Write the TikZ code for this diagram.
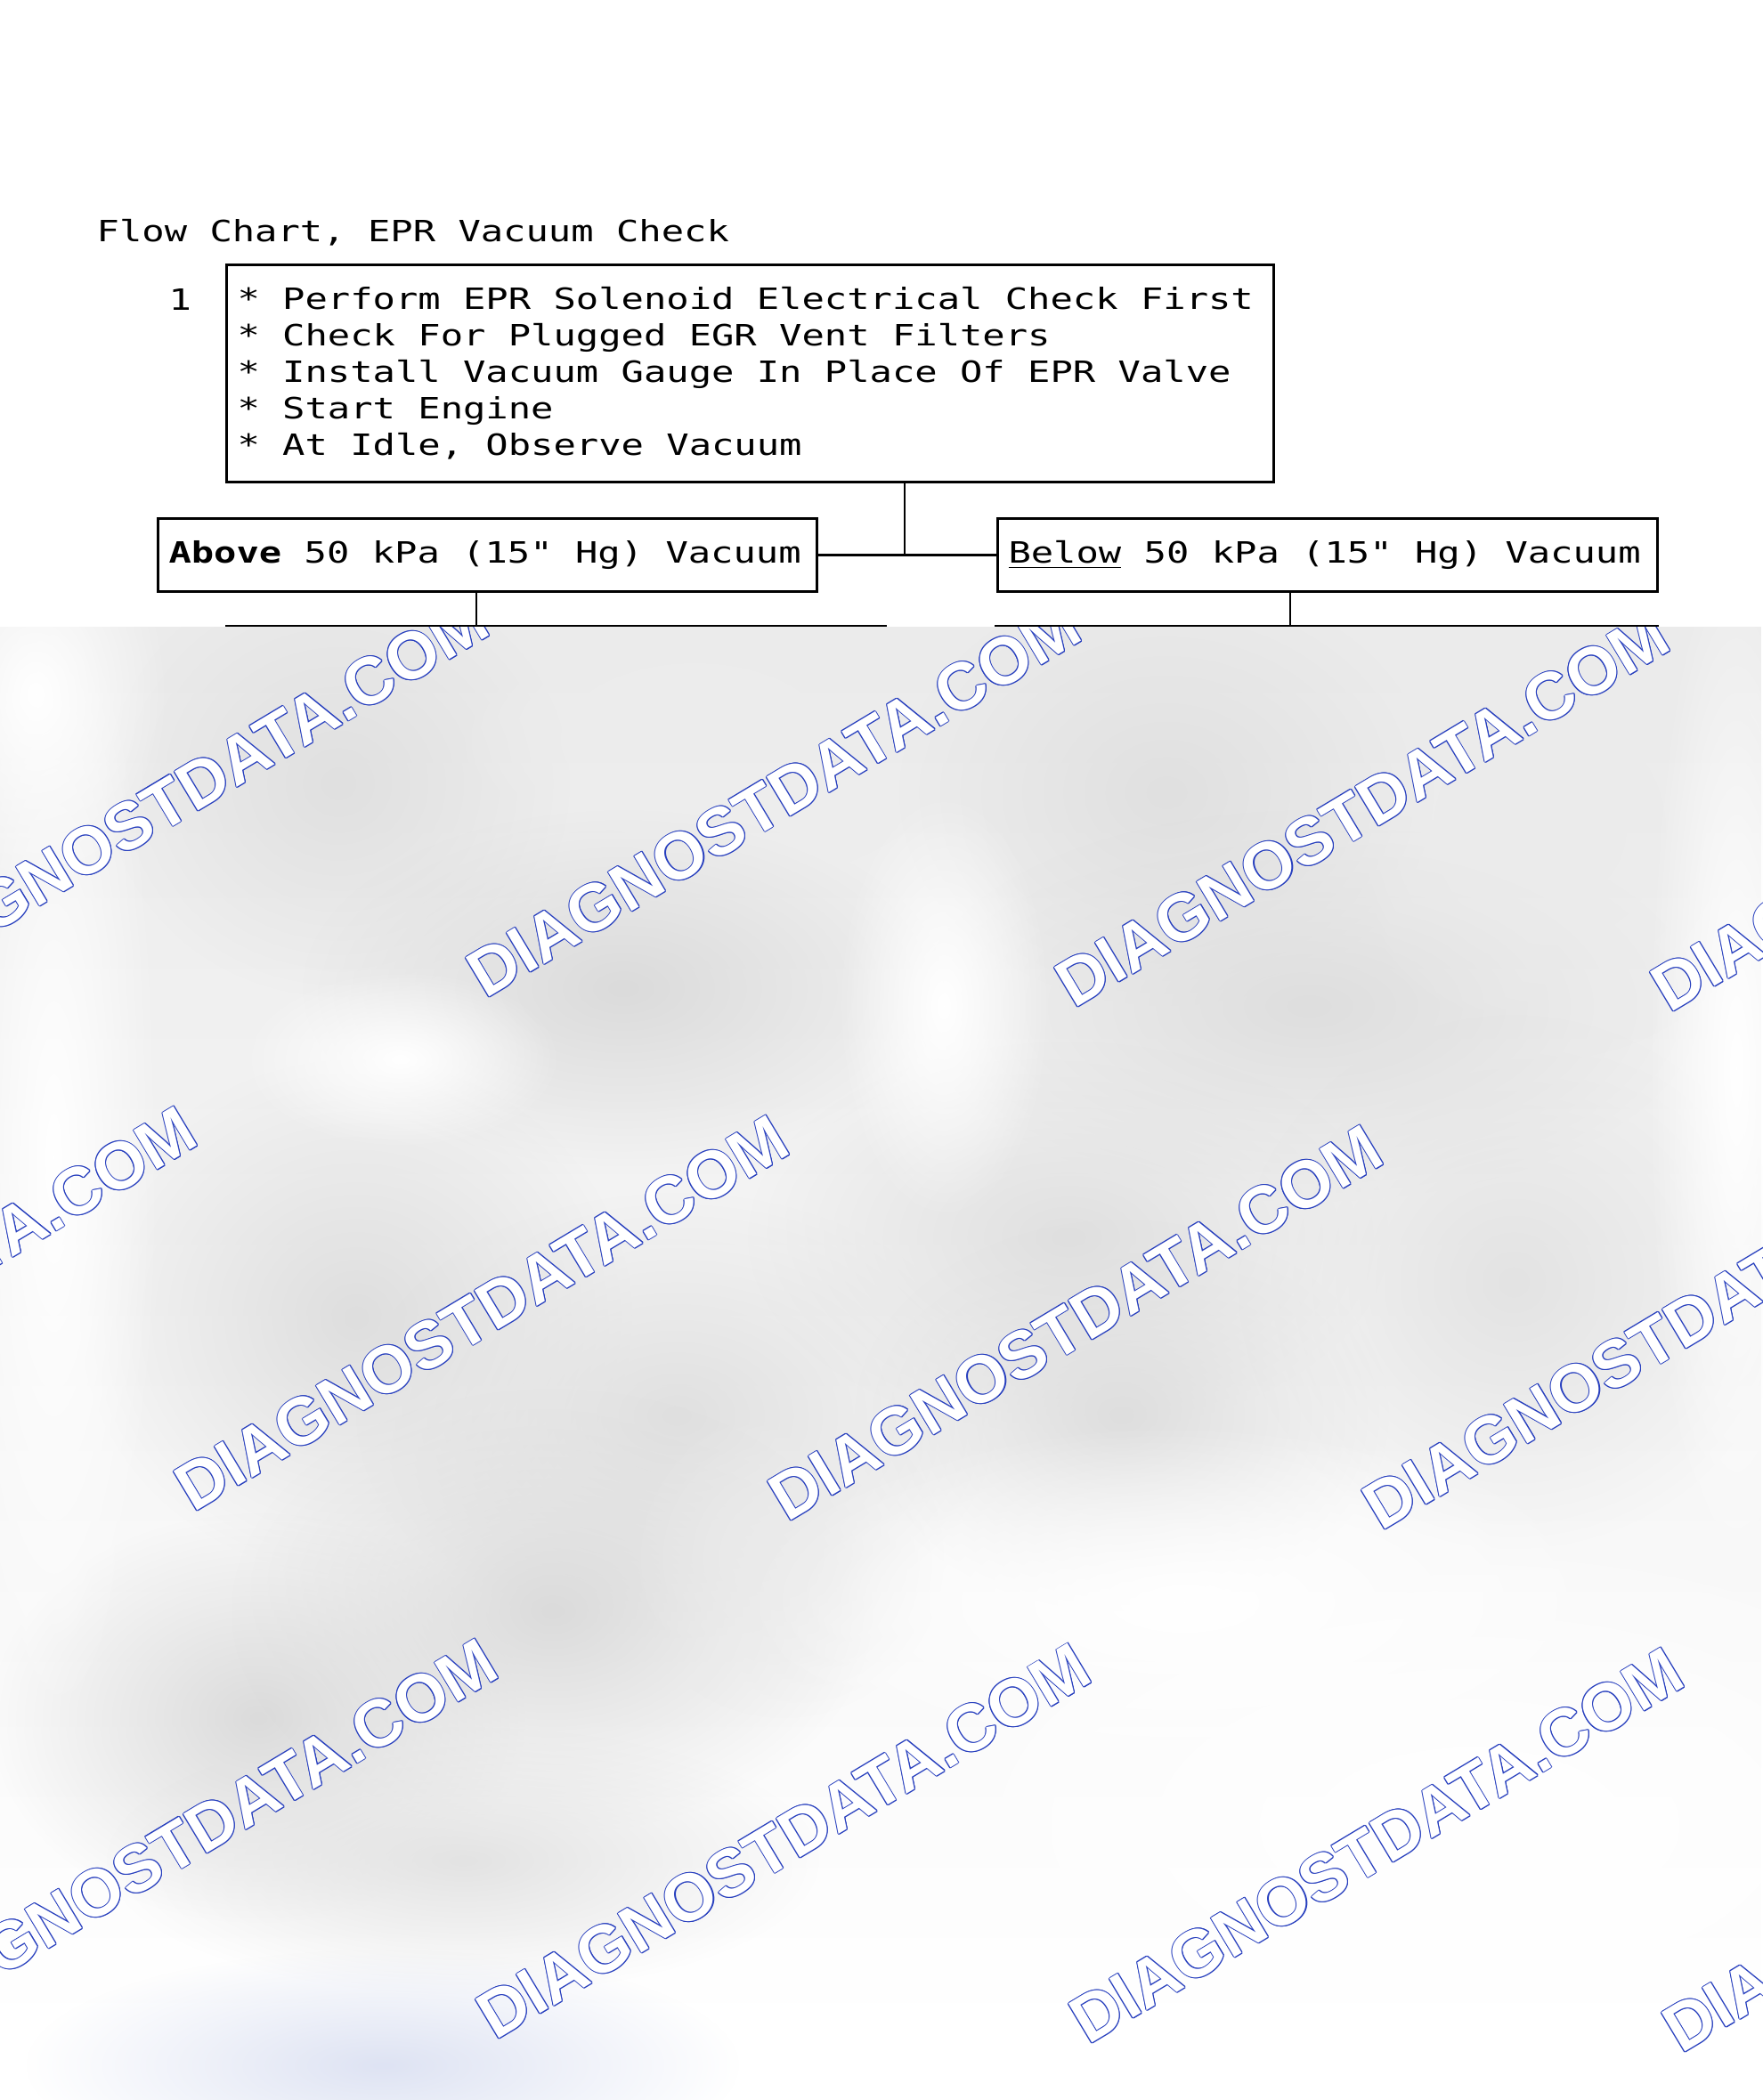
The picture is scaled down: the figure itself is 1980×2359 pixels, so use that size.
\documentclass[tikz,border=0pt]{standalone}
\usepackage{fontspec}
\usetikzlibrary{positioning,fadings}
\newfontfamily\chartfont[FakeStretch=1.28]{DejaVu Sans Mono}
\newfontfamily\markfont{Liberation Sans}
\definecolor{markblue}{RGB}{38,62,190}
\definecolor{haze}{RGB}{222,227,243}
\tikzfading[name=softblob, inner color=transparent!0, outer color=transparent!100]
\tikzfading[name=downfade, top color=transparent!0, bottom color=transparent!100]
\newcommand{\markcopy}[3]{\makebox[0pt][l]{\hspace*{#1}\raisebox{#2}{#3}}}
\newcommand{\markoutline}[1]{{\color{markblue}%
  \markcopy{0.3pt}{0pt}{#1}\markcopy{-0.3pt}{0pt}{#1}%
  \markcopy{0pt}{0.3pt}{#1}\markcopy{0pt}{-0.3pt}{#1}%
  \markcopy{0.21pt}{0.21pt}{#1}\markcopy{-0.21pt}{0.21pt}{#1}%
  \markcopy{0.21pt}{-0.21pt}{#1}\markcopy{-0.21pt}{-0.21pt}{#1}}%
  {\color{white}#1}}
\tikzset{
  chart/.style = {inner sep=0pt,
    font=\chartfont\fontsize{9.36pt}{11.67pt}\selectfont},
  stepbox/.style = {chart, rectangle, draw=black, line width=0.85pt,
    anchor=north west, align=left, inner xsep=0.12cm,
    execute at begin node={\spaceskip=\fontdimen2\font
      \xspaceskip=\fontdimen2\font}},% case du diagramme
  link/.style = {draw=black, line width=0.7pt},% trait de liaison
  blob/.style = {path fading=softblob},% tache floue
  wmark/.style = {inner sep=0pt, anchor=base west, rotate=31,
    font=\markfont\bfseries\fontsize{21.25pt}{24pt}\selectfont}% filigrane
}

\begin{document}
\begin{tikzpicture}[x=0.01cm, y=-0.01cm]
\useasboundingbox (0,0) rectangle (1980,2359);
\node [chart, anchor=base west] (title) at (108,271) {Flow Chart, EPR Vacuum Check};
\node [chart, anchor=base west] (num) at (189,348) {1};
\node [stepbox, minimum width=11.75cm, minimum height=2.44cm, text width=11.51cm]
    (check) at (253,296) {{*} Perform EPR Solenoid Electrical Check First\\
    {*} Check For Plugged EGR Vent Filters\\
    {*} Install Vacuum Gauge In Place Of EPR Valve\\
    {*} Start Engine\\
    {*} At Idle, Observe Vacuum};
\node [stepbox, minimum width=7.40cm, minimum height=0.82cm, text width=7.16cm]
    (above) at (176,581) {\textbf{Above} 50 kPa (15" Hg) Vacuum};
\node [stepbox, minimum width=7.41cm, minimum height=0.82cm, text width=7.17cm]
    (below) at (1119,581) {\underline{Below} 50 kPa (15" Hg) Vacuum};
\node [stepbox, minimum width=7.40cm, minimum height=3cm] (lowA) at (253,702) {};
\node [stepbox, minimum width=7.43cm, minimum height=3cm] (lowB) at (1117,702) {};
\coordinate (split) at (1016,622);
\coordinate (tapA) at (535,0);
\coordinate (tapB) at (1449,0);
\draw [link] (check.south -| split) -- (split);
\draw [link] (above.east) -- (below.west);
\draw [link] (above.south -| tapA) -- (lowA.north -| tapA);
\draw [link] (below.south -| tapB) -- (lowB.north -| tapB);
% partie floutee
\begin{scope}
  \clip (0,704) rectangle (1980,2359);
  \fill [white] (0,704) rectangle (1980,2359);
  \fill [path fading=downfade, black!8] (0,704) rectangle (1980,2250);
  \foreach \cx/\cy/\rx/\ry/\g in {380/880/260/240/12, 700/1110/360/200/14,
      780/830/300/170/7, 1310/890/300/240/12, 1470/1130/440/220/13,
      1740/930/260/260/8, 400/1480/310/290/13, 760/1590/360/250/12,
      1200/1390/360/220/12, 1260/1590/300/220/13, 1700/1440/310/300/11,
      290/1930/300/230/14, 620/1810/360/250/14, 520/2090/400/150/11,
      880/1750/180/180/8}
    \fill [blob, black!\g] (\cx,\cy) ellipse [x radius=\rx, y radius=\ry];
  \foreach \cx/\cy/\rx/\ry in {450/1190/180/100, 1060/1130/120/240,
      1330/1800/500/200, 1650/2050/700/350, 60/1300/120/650,
      40/780/150/220, 1950/1200/100/600}
    \fill [blob, white] (\cx,\cy) ellipse [x radius=\rx, y radius=\ry];
  \fill [blob, haze] (430,2320) ellipse [x radius=400, y radius=130];
  \foreach \wx/\wy [count=\i] in {-120/1117, 545/1123, 1206/1134, 1875/1139,
      -448/1690, 217/1700, 884/1711, 1551/1721,
      -110/2288, 556/2293, 1222/2298, 1888/2308}
    \node [wmark] (wm\i) at (\wx,\wy) {\markoutline{DIAGNOSTDATA.COM}};
\end{scope}
\end{tikzpicture}
\end{document}
